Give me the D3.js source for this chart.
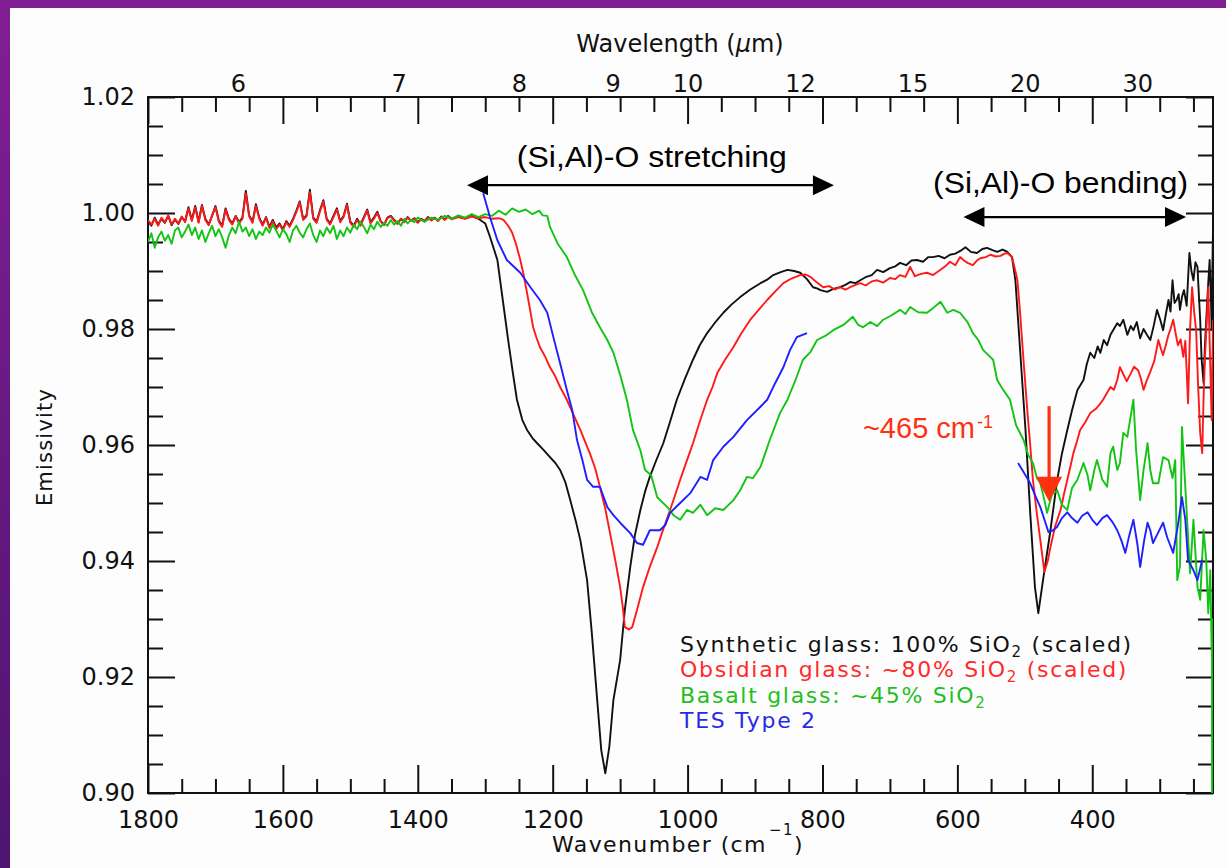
<!DOCTYPE html>
<html><head><meta charset="utf-8">
<script src="https://cdn.jsdelivr.net/npm/d3@7"></script>
<style>
html,body{margin:0;padding:0;background:#fff;}
svg{display:block;}
</style></head><body>
<svg id="c" width="1226" height="868"></svg>
<script>
// ---------------- DATA ([wavenumber cm-1, emissivity]) ----------------
const synthetic = [[1800,0.9985],[1795,0.9978],[1790,0.9992],[1785,0.9980],[1780,0.9990],[1775,0.9983],[1770,0.9995],[1765,0.9979],[1760,0.9989],[1755,0.9981],[1750,0.9993],[1745,0.9986],[1740,1.0010],[1735,0.9988],[1730,1.0012],[1725,0.9985],[1720,1.0014],[1715,0.9990],[1710,0.9980],[1705,0.9995],[1700,1.0012],[1695,0.9987],[1690,0.9978],[1685,1.0008],[1680,0.9990],[1675,0.9982],[1670,0.9995],[1665,0.9984],[1660,0.9992],[1655,1.0038],[1650,0.9996],[1645,0.9985],[1640,1.0015],[1635,0.9992],[1630,0.9980],[1625,0.9993],[1620,0.9976],[1615,0.9988],[1610,0.9975],[1605,0.9982],[1600,0.9972],[1595,0.9986],[1590,0.9978],[1585,0.9990],[1580,1.0004],[1575,1.0020],[1570,0.9990],[1565,0.9996],[1560,1.0040],[1555,0.9992],[1550,0.9985],[1545,1.0005],[1540,1.0022],[1535,0.9990],[1530,0.9982],[1525,0.9995],[1520,1.0008],[1515,0.9986],[1510,0.9995],[1505,1.0016],[1500,0.9985],[1495,0.9978],[1490,0.9990],[1485,0.9980],[1480,0.9993],[1475,1.0006],[1470,0.9984],[1465,0.9992],[1460,1.0002],[1455,0.9986],[1450,0.9980],[1445,0.9992],[1440,0.9995],[1435,0.9988],[1430,0.9982],[1425,0.9990],[1420,0.9985],[1415,0.9993],[1410,0.9987],[1405,0.9991],[1400,0.9984],[1395,0.9990],[1390,0.9986],[1385,0.9993],[1380,0.9988],[1375,0.9992],[1370,0.9987],[1365,0.9994],[1360,0.9989],[1355,0.9995],[1350,0.9990],[1340,0.9994],[1330,0.9991],[1320,0.9995],[1310,0.9990],[1300,0.9982],
[1293,0.9959],[1282,0.9919],[1274,0.9850],[1266,0.9781],[1259,0.9724],[1253,0.9678],[1245,0.9643],[1238,0.9626],[1230,0.9612],[1223,0.9603],[1214,0.9592],[1204,0.9579],[1196,0.9569],[1189,0.9557],[1181,0.9535],[1174,0.9505],[1166,0.9470],[1159,0.9436],[1149,0.9367],[1142,0.9276],[1134,0.9160],[1128,0.9074],[1122,0.9034],[1116,0.9080],[1110,0.9160],[1100,0.9229],[1093,0.9316],[1085,0.9390],[1078,0.9445],[1070,0.9488],[1063,0.9520],[1056,0.9545],[1046,0.9575],[1036,0.9603],[1026,0.9640],[1016,0.9678],[1004,0.9714],[992,0.9747],[982,0.9772],[971,0.9793],[960,0.9810],[947,0.9828],[935,0.9842],[922,0.9855],[907,0.9868],[892,0.9879],[882,0.9885],[873,0.9893],[862,0.9898],[852,0.9902],[842,0.9900],[833,0.9897],[823,0.9886],[814,0.9872],[808,0.9870],[803,0.9867],[793,0.9864],[784,0.9869],[774,0.9872],[766,0.9876],[759,0.9881],[751,0.9879],[744,0.9884],[735,0.9890],[727,0.9893],[719,0.9902],[710,0.9898],[700,0.9905],[692,0.9908],[685,0.9914],[676,0.9910],[668,0.9918],[660,0.9919],[651,0.9916],[643,0.9924],[636,0.9924],[628,0.9926],[619,0.9922],[611,0.9928],[603,0.9930],[595,0.9935],[588,0.9941],[580,0.9933],[571,0.9931],[563,0.9938],[556,0.9940],[548,0.9936],[541,0.9933],[533,0.9937],[526,0.9933],[519,0.9924],[514,0.9884],[510,0.9816],[504,0.9712],[499,0.9626],[492,0.9483],[485,0.9355],[480,0.9310],[473,0.9367],[462,0.9453],[452,0.9540],[445,0.9585],[437,0.9626],[430,0.9660],[422,0.9695],[413,0.9712],[408,0.9740],[403,0.9759],[397,0.9750],[392,0.9770],[388,0.9759],[383,0.9781],[378,0.9772],[373,0.9790],[368,0.9800],[363,0.9810],[359,0.9805],[354,0.9816],[348,0.9790],[343,0.9805],[339,0.9798],[334,0.9812],[329,0.9784],[324,0.9800],[319,0.9790],[314,0.9781],[309,0.9805],[304,0.9833],[299,0.9815],[295,0.9798],[291,0.9825],[287,0.9850],[284,0.9830],[281,0.9884],[278,0.9845],[275,0.9850],[272,0.9860],[270,0.9833],[267,0.9855],[264,0.9867],[260,0.9840],[256,0.9931],[253,0.9900],[250,0.9884],[247,0.9915],[244,0.9907],[242,0.9860],[240,0.9816],[238,0.9750],[235,0.9707],[233,0.9770],[231,0.9816],[228,0.9880],[226,0.9919],[224,0.9850],[223,0.9798],[222,0.9900],[221,0.9971]];

const obsidian = [[1800,0.9988],[1795,0.9980],[1790,0.9990],[1785,0.9978],[1780,0.9992],[1775,0.9984],[1770,0.9996],[1765,0.9980],[1760,0.9990],[1755,0.9982],[1750,0.9994],[1745,0.9984],[1740,1.0008],[1735,0.9986],[1730,1.0010],[1725,0.9983],[1720,1.0012],[1715,0.9988],[1710,0.9979],[1705,0.9996],[1700,1.0010],[1695,0.9985],[1690,0.9976],[1685,1.0006],[1680,0.9988],[1675,0.9980],[1670,0.9994],[1665,0.9982],[1660,0.9990],[1655,1.0034],[1650,0.9994],[1645,0.9983],[1640,1.0012],[1635,0.9990],[1630,0.9978],[1625,0.9992],[1620,0.9974],[1615,0.9986],[1610,0.9972],[1605,0.9980],[1600,0.9970],[1595,0.9984],[1590,0.9976],[1585,0.9988],[1580,1.0002],[1575,1.0018],[1570,0.9988],[1565,0.9994],[1560,1.0036],[1555,0.9990],[1550,0.9983],[1545,1.0003],[1540,1.0020],[1535,0.9988],[1530,0.9980],[1525,0.9993],[1520,1.0006],[1515,0.9984],[1510,0.9993],[1505,1.0014],[1500,0.9983],[1495,0.9976],[1490,0.9988],[1485,0.9978],[1480,0.9991],[1475,1.0004],[1470,0.9982],[1465,0.9990],[1460,1.0000],[1455,0.9985],[1450,0.9979],[1445,0.9991],[1440,0.9994],[1435,0.9987],[1430,0.9981],[1425,0.9990],[1420,0.9984],[1415,0.9992],[1410,0.9986],[1405,0.9990],[1400,0.9983],[1395,0.9989],[1390,0.9985],[1385,0.9992],[1380,0.9987],[1375,0.9991],[1370,0.9986],[1365,0.9993],[1360,0.9988],[1355,0.9994],[1350,0.9989],[1340,0.9993],[1330,0.9990],[1320,0.9994],[1310,0.9991],[1300,0.9993],[1290,0.9990],[1280,0.9991],
[1273,0.9988],[1266,0.9978],[1260,0.9966],[1254,0.9945],[1248,0.9919],[1243,0.9893],[1238,0.9862],[1233,0.9830],[1229,0.9803],[1224,0.9785],[1219,0.9769],[1211,0.9752],[1204,0.9734],[1196,0.9718],[1189,0.9700],[1179,0.9678],[1169,0.9652],[1159,0.9626],[1152,0.9606],[1145,0.9586],[1137,0.9560],[1130,0.9528],[1122,0.9490],[1115,0.9448],[1107,0.9400],[1100,0.9355],[1096,0.9320],[1093,0.9286],[1087,0.9282],[1082,0.9286],[1074,0.9320],[1066,0.9355],[1056,0.9390],[1045,0.9424],[1036,0.9455],[1026,0.9488],[1018,0.9515],[1011,0.9540],[1002,0.9570],[992,0.9603],[982,0.9640],[971,0.9678],[963,0.9700],[956,0.9724],[944,0.9748],[932,0.9769],[920,0.9793],[907,0.9816],[894,0.9834],[882,0.9850],[870,0.9865],[858,0.9879],[846,0.9887],[833,0.9893],[825,0.9894],[818,0.9890],[808,0.9880],[799,0.9872],[790,0.9874],[782,0.9868],[774,0.9872],[766,0.9868],[759,0.9872],[751,0.9876],[744,0.9879],[736,0.9875],[727,0.9882],[719,0.9884],[710,0.9880],[700,0.9888],[692,0.9886],[685,0.9893],[677,0.9890],[670,0.9907],[663,0.9891],[654,0.9895],[645,0.9897],[636,0.9893],[625,0.9902],[618,0.9908],[611,0.9916],[603,0.9910],[596,0.9924],[590,0.9918],[585,0.9914],[577,0.9910],[571,0.9918],[566,0.9922],[558,0.9924],[551,0.9928],[543,0.9925],[536,0.9926],[530,0.9930],[526,0.9931],[519,0.9924],[514,0.9900],[511,0.9884],[507,0.9828],[502,0.9747],[496,0.9655],[492,0.9600],[488,0.9540],[482,0.9480],[477,0.9436],[471,0.9381],[466,0.9400],[462,0.9424],[455,0.9460],[447,0.9488],[442,0.9515],[437,0.9540],[432,0.9565],[428,0.9586],[423,0.9605],[418,0.9626],[410,0.9640],[403,0.9655],[395,0.9662],[389,0.9670],[384,0.9678],[378,0.9690],[373,0.9700],[368,0.9695],[363,0.9712],[359,0.9734],[354,0.9722],[349,0.9710],[344,0.9721],[338,0.9735],[332,0.9729],[328,0.9715],[324,0.9695],[319,0.9712],[314,0.9726],[308,0.9745],[302,0.9781],[298,0.9765],[295,0.9755],[291,0.9772],[287,0.9790],[284,0.9800],[280,0.9816],[276,0.9790],[273,0.9772],[269,0.9782],[265,0.9752],[262,0.9780],[258,0.9672],[255,0.9800],[252,0.9872],[249,0.9830],[246,0.9798],[243,0.9700],[240,0.9621],[237,0.9586],[235,0.9680],[233,0.9747],[230,0.9820],[228,0.9872],[226,0.9780],[223,0.9643],[221,0.9816]];

const basalt = [[1800,0.9950],[1795,0.9965],[1790,0.9940],[1785,0.9958],[1780,0.9968],[1775,0.9952],[1770,0.9962],[1765,0.9947],[1760,0.9970],[1755,0.9975],[1750,0.9958],[1745,0.9968],[1740,0.9980],[1735,0.9962],[1730,0.9975],[1725,0.9955],[1720,0.9970],[1715,0.9950],[1710,0.9965],[1705,0.9978],[1700,0.9960],[1695,0.9972],[1690,0.9958],[1685,0.9940],[1680,0.9962],[1675,0.9975],[1670,0.9965],[1665,0.9985],[1660,0.9968],[1655,0.9975],[1650,0.9960],[1645,0.9972],[1640,0.9955],[1635,0.9968],[1630,0.9962],[1625,0.9975],[1620,0.9966],[1615,0.9980],[1610,0.9970],[1605,0.9958],[1600,0.9972],[1595,0.9964],[1590,0.9950],[1585,0.9970],[1580,0.9978],[1575,0.9966],[1570,0.9958],[1565,0.9972],[1560,0.9982],[1555,0.9962],[1550,0.9950],[1545,0.9970],[1540,0.9960],[1535,0.9975],[1530,0.9965],[1525,0.9978],[1520,0.9955],[1515,0.9970],[1510,0.9960],[1505,0.9975],[1500,0.9966],[1495,0.9980],[1490,0.9972],[1485,0.9985],[1480,0.9976],[1475,0.9965],[1470,0.9980],[1465,0.9972],[1460,0.9985],[1455,0.9976],[1450,0.9983],[1445,0.9978],[1440,0.9988],[1435,0.9980],[1430,0.9986],[1425,0.9978],[1420,0.9990],[1415,0.9982],[1410,0.9988],[1405,0.9984],[1400,0.9992],[1390,0.9985],[1380,0.9992],[1370,0.9988],[1360,0.9995],[1350,0.9990],[1340,0.9996],[1330,0.9992],[1320,0.9998],[1310,0.9993],[1300,0.9998],[1290,0.9995],[1280,1.0004],[1270,0.9997],[1260,1.0008],[1250,1.0002],[1240,1.0006],[1230,0.9998],[1220,1.0004],[1215,0.9996],[1208,0.9995],
[1204,0.9976],[1193,0.9948],[1179,0.9924],[1167,0.9893],[1155,0.9867],[1142,0.9829],[1130,0.9803],[1119,0.9781],[1110,0.9759],[1100,0.9721],[1090,0.9678],[1081,0.9626],[1070,0.9591],[1063,0.9557],[1054,0.9548],[1045,0.9510],[1030,0.9493],[1021,0.9479],[1011,0.9471],[1001,0.9488],[992,0.9483],[981,0.9497],[971,0.9479],[959,0.9491],[947,0.9488],[932,0.9505],[922,0.9522],[912,0.9545],[903,0.9543],[892,0.9562],[878,0.9609],[863,0.9655],[852,0.9678],[840,0.9712],[829,0.9747],[818,0.9760],[808,0.9781],[796,0.9788],[784,0.9798],[769,0.9807],[755,0.9821],[747,0.9807],[740,0.9803],[729,0.9812],[719,0.9805],[710,0.9816],[700,0.9822],[685,0.9833],[677,0.9826],[670,0.9838],[658,0.9829],[645,0.9828],[636,0.9836],[625,0.9847],[615,0.9828],[606,0.9833],[596,0.9828],[585,0.9812],[577,0.9793],[569,0.9781],[562,0.9764],[554,0.9755],[547,0.9747],[541,0.9712],[532,0.9695],[522,0.9678],[513,0.9634],[502,0.9609],[495,0.9583],[488,0.9569],[482,0.9543],[477,0.9534],[471,0.9505],[467,0.9483],[460,0.9514],[452,0.9522],[445,0.9497],[437,0.9488],[430,0.9526],[422,0.9540],[413,0.9569],[407,0.9548],[403,0.9522],[397,0.9557],[393,0.9574],[385,0.9540],[378,0.9528],[373,0.9586],[369,0.9597],[363,0.9557],[359,0.9569],[354,0.9621],[348,0.9614],[344,0.9643],[339,0.9678],[335,0.9591],[329,0.9505],[324,0.9557],[318,0.9603],[314,0.9557],[310,0.9534],[302,0.9534],[295,0.9579],[287,0.9574],[281,0.9543],[277,0.9574],[274,0.9367],[270,0.9391],[267,0.9631],[261,0.9505],[255,0.9379],[250,0.9471],[244,0.9355],[240,0.9333],[235,0.9453],[231,0.9402],[228,0.9310],[225,0.9384],[223,0.9247],[222.5,0.9300],[222.4,0.9000]];

const tesA = [[1303,1.0034],[1293,0.9993],[1282,0.9953],[1268,0.9919],[1248,0.9897],[1233,0.9872],[1219,0.9850],[1208,0.9828],[1199,0.9786],[1189,0.9741],[1179,0.9695],[1171,0.9660],[1164,0.9609],[1156,0.9574],[1149,0.9540],[1140,0.9528],[1130,0.9528],[1119,0.9493],[1110,0.9479],[1100,0.9466],[1085,0.9448],[1075,0.9431],[1066,0.9428],[1056,0.9453],[1041,0.9453],[1033,0.9462],[1026,0.9483],[1011,0.9500],[996,0.9517],[981,0.9545],[971,0.9540],[962,0.9574],[947,0.9597],[932,0.9614],[912,0.9643],[892,0.9666],[882,0.9678],[870,0.9707],[858,0.9734],[848,0.9764],[838,0.9786],[823,0.9793]];

const tesB = [[510,0.9569],[499,0.9548],[492,0.9534],[485,0.9514],[477,0.9493],[465,0.9450],[458,0.9453],[452,0.9459],[445,0.9474],[437,0.9484],[430,0.9474],[422,0.9466],[415,0.9478],[407,0.9484],[400,0.9471],[393,0.9462],[385,0.9474],[378,0.9479],[370,0.9467],[363,0.9453],[357,0.9436],[351,0.9414],[345,0.9445],[339,0.9471],[333,0.9428],[329,0.9390],[323,0.9436],[318,0.9466],[314,0.9453],[310,0.9431],[304,0.9445],[295,0.9466],[289,0.9441],[280,0.9414],[273,0.9462],[267,0.9510],[262,0.9471],[258,0.9402],[250,0.9384],[244,0.9367],[237,0.9402]];

const xMajor = [1800,1600,1400,1200,1000,800,600,400];
const yMajor = [0.90,0.92,0.94,0.96,0.98,1.00,1.02];
const wavelengths = [6,7,8,9,10,12,15,20,30];
const legendItems = [
  {pre:"Synthetic glass: 100% SiO", sub:"2", post:" (scaled)", color:"#111111"},
  {pre:"Obsidian glass: ~80% SiO", sub:"2", post:" (scaled)", color:"#ff2a2a"},
  {pre:"Basalt glass: ~45% SiO", sub:"2", post:"", color:"#1fbf1f"},
  {pre:"TES Type 2", sub:"", post:"", color:"#2a2ae6"}
];
// annotation anchors in data units
const stretchArrow = {from:1327, to:783, e:1.0048};
const bendArrow = {from:591, to:261, e:0.9993};
const peakArrow = {wn:464, top:0.9667, tip:0.9502};

// ---------------- DRAW ----------------
const svg = d3.select("#c");
const W=1226, H=868;
const P = {l:148, t:97, r:1213, b:793};
const x = d3.scaleLinear().domain([1800,221]).range([P.l,P.r]);
const y = d3.scaleLinear().domain([0.90,1.02]).range([P.b,P.t]);

const defs = svg.append("defs");
const g1 = defs.append("linearGradient").attr("id","lg").attr("x1",0).attr("y1",0).attr("x2",0).attr("y2",1);
g1.append("stop").attr("offset","0%").attr("stop-color","#821e94");
g1.append("stop").attr("offset","100%").attr("stop-color","#4e1470");
defs.append("clipPath").attr("id","clip").append("rect")
  .attr("x",P.l).attr("y",P.t).attr("width",P.r-P.l).attr("height",P.b-P.t);

svg.append("rect").attr("width",W).attr("height",H).attr("fill","#fdfdfd");
svg.append("rect").attr("width",W).attr("height",8).attr("fill","#7e1e90");
svg.append("rect").attr("width",10).attr("height",H).attr("fill","url(#lg)");

const FONT = "'DejaVu Sans', sans-serif";
const minorX = d3.range(1750,220,-50).filter(v=>v%200!==0);
const minorY = d3.range(0,25).map(i=>+(0.90+i*0.005).toFixed(3)).filter(v=>Math.round(v*1000)%20!==0);

function styleAxis(g){
  g.select(".domain").remove();
  g.selectAll("line").attr("stroke","#111").attr("stroke-width",2);
  g.selectAll("text").attr("font-family",FONT).attr("font-size",24).attr("fill","#111");
}
// frame
svg.append("rect").attr("x",P.l).attr("y",P.t).attr("width",P.r-P.l).attr("height",P.b-P.t)
  .attr("fill","none").attr("stroke","#111").attr("stroke-width",2);
// bottom
svg.append("g").attr("transform",`translate(0,${P.b})`)
  .call(d3.axisBottom(x).tickValues(xMajor).tickSizeInner(-28).tickSizeOuter(0).tickPadding(18).tickFormat(d3.format("d"))).call(styleAxis);
svg.append("g").attr("transform",`translate(0,${P.b})`)
  .call(d3.axisBottom(x).tickValues(minorX).tickSizeInner(-14).tickSizeOuter(0).tickFormat("")).call(styleAxis);
// top (mirrored wavenumber ticks)
svg.append("g").attr("transform",`translate(0,${P.t})`)
  .call(d3.axisTop(x).tickValues(xMajor).tickSizeInner(-27).tickSizeOuter(0).tickFormat("")).call(styleAxis);
svg.append("g").attr("transform",`translate(0,${P.t})`)
  .call(d3.axisTop(x).tickValues(minorX).tickSizeInner(-15).tickSizeOuter(0).tickFormat("")).call(styleAxis);
// top wavelength labels
svg.append("g").attr("transform",`translate(0,${P.t})`)
  .call(d3.axisTop(x).tickValues(wavelengths.map(l=>1e4/l)).tickSize(0).tickPadding(5)
    .tickFormat((d,i)=>wavelengths[i])).call(styleAxis);
// left
svg.append("g").attr("transform",`translate(${P.l},0)`)
  .call(d3.axisLeft(y).tickValues(yMajor).tickSizeInner(-27).tickSizeOuter(0).tickPadding(13).tickFormat(d3.format(".2f"))).call(styleAxis);
svg.append("g").attr("transform",`translate(${P.l},0)`)
  .call(d3.axisLeft(y).tickValues(minorY).tickSizeInner(-15).tickSizeOuter(0).tickFormat("")).call(styleAxis);
// right
svg.append("g").attr("transform",`translate(${P.r},0)`)
  .call(d3.axisRight(y).tickValues(yMajor).tickSizeInner(-27).tickSizeOuter(0).tickFormat("")).call(styleAxis);
svg.append("g").attr("transform",`translate(${P.r},0)`)
  .call(d3.axisRight(y).tickValues(minorY).tickSizeInner(-15).tickSizeOuter(0).tickFormat("")).call(styleAxis);

// series
const line = d3.line().x(d=>x(d[0])).y(d=>y(d[1]));
const plot = svg.append("g").attr("clip-path","url(#clip)");
[[synthetic,"#111111"],[obsidian,"#ff1a1a"],[basalt,"#14c414"],[tesA,"#1f1fff"],[tesB,"#1f1fff"]].forEach(([d,c])=>{
  plot.append("path").attr("d",line(d)).attr("fill","none").attr("stroke",c)
    .attr("stroke-width",1.9).attr("stroke-linejoin","round");
});

// axis titles
svg.append("text").attr("x",680).attr("y",52).attr("text-anchor","middle")
  .attr("font-family",FONT).attr("font-size",24).attr("fill","#111")
  .call(t=>{t.append("tspan").text("Wavelength (");
           t.append("tspan").attr("font-style","italic").text("\u03bc");
           t.append("tspan").text("m)");});
const xt = svg.append("text").attr("x",552).attr("y",852)
  .attr("font-family",FONT).attr("font-size",22).attr("letter-spacing",1.4).attr("fill","#111");
xt.append("tspan").text("Wavenumber (cm");
xt.append("tspan").attr("font-size",15).attr("dy",-17).attr("dx",2).text("\u22121");
xt.append("tspan").attr("dy",17).text(")");
svg.append("text").attr("transform",`translate(52,447) rotate(-90)`).attr("text-anchor","middle")
  .attr("font-family",FONT).attr("font-size",21).attr("letter-spacing",1.2).attr("fill","#111").text("Emissivity");

// legend
const lg = svg.append("g");
legendItems.forEach((it,i)=>{
  const t = lg.append("text").attr("x",680).attr("y",652+i*25.3)
    .attr("font-family",FONT).attr("font-size",22).attr("letter-spacing",1.7).attr("fill",it.color);
  t.append("tspan").text(it.pre);
  if(it.sub){ t.append("tspan").attr("font-size",15).attr("dy",5).text(it.sub);
              t.append("tspan").attr("dy",-5).text(it.post); }
});

// annotations
const AF = "'Liberation Sans', Arial, sans-serif";
function hArrow(a, color, w, hl, hw){
  const g = svg.append("g");
  const x1 = x(a.from), x2 = x(a.to), yy = y(a.e);
  g.append("line").attr("x1",x1+hl-2).attr("x2",x2-hl+2).attr("y1",yy).attr("y2",yy)
    .attr("stroke",color).attr("stroke-width",w);
  g.append("path").attr("d",`M${x1},${yy}L${x1+hl},${yy-hw}L${x1+hl},${yy+hw}Z`).attr("fill",color);
  g.append("path").attr("d",`M${x2},${yy}L${x2-hl},${yy-hw}L${x2-hl},${yy+hw}Z`).attr("fill",color);
}
hArrow(stretchArrow,"#000",2.2,21,10);
hArrow(bendArrow,"#000",2.2,21,10);

svg.append("text").attr("x",x(1053)).attr("y",y(1.0079)).attr("text-anchor","middle")
  .attr("font-family",AF).attr("font-size",29).attr("fill","#000")
  .attr("textLength",270).attr("lengthAdjust","spacingAndGlyphs").text("(Si,Al)-O stretching");
svg.append("text").attr("x",x(636)).attr("y",y(1.0034))
  .attr("font-family",AF).attr("font-size",29).attr("fill","#000")
  .attr("textLength",255).attr("lengthAdjust","spacingAndGlyphs").text("(Si,Al)-O bending)");

const RC = "#ff3010";
const pa = svg.append("g");
const px = x(peakArrow.wn), pyTop = y(peakArrow.top), pyTip = y(peakArrow.tip);
pa.append("line").attr("x1",px).attr("x2",px).attr("y1",pyTop).attr("y2",pyTip-22)
  .attr("stroke",RC).attr("stroke-width",3.2);
pa.append("path").attr("d",`M${px},${pyTip}L${px-13},${pyTip-25}L${px+13},${pyTip-25}Z`).attr("fill",RC);
const lt = svg.append("text").attr("x",x(740)).attr("y",y(0.9612))
  .attr("font-family",AF).attr("font-size",29).attr("fill",RC);
lt.append("tspan").text("~465 cm");
lt.append("tspan").attr("font-size",18).attr("dy",-10).attr("dx",2).text("-1");
</script>
</body></html>
